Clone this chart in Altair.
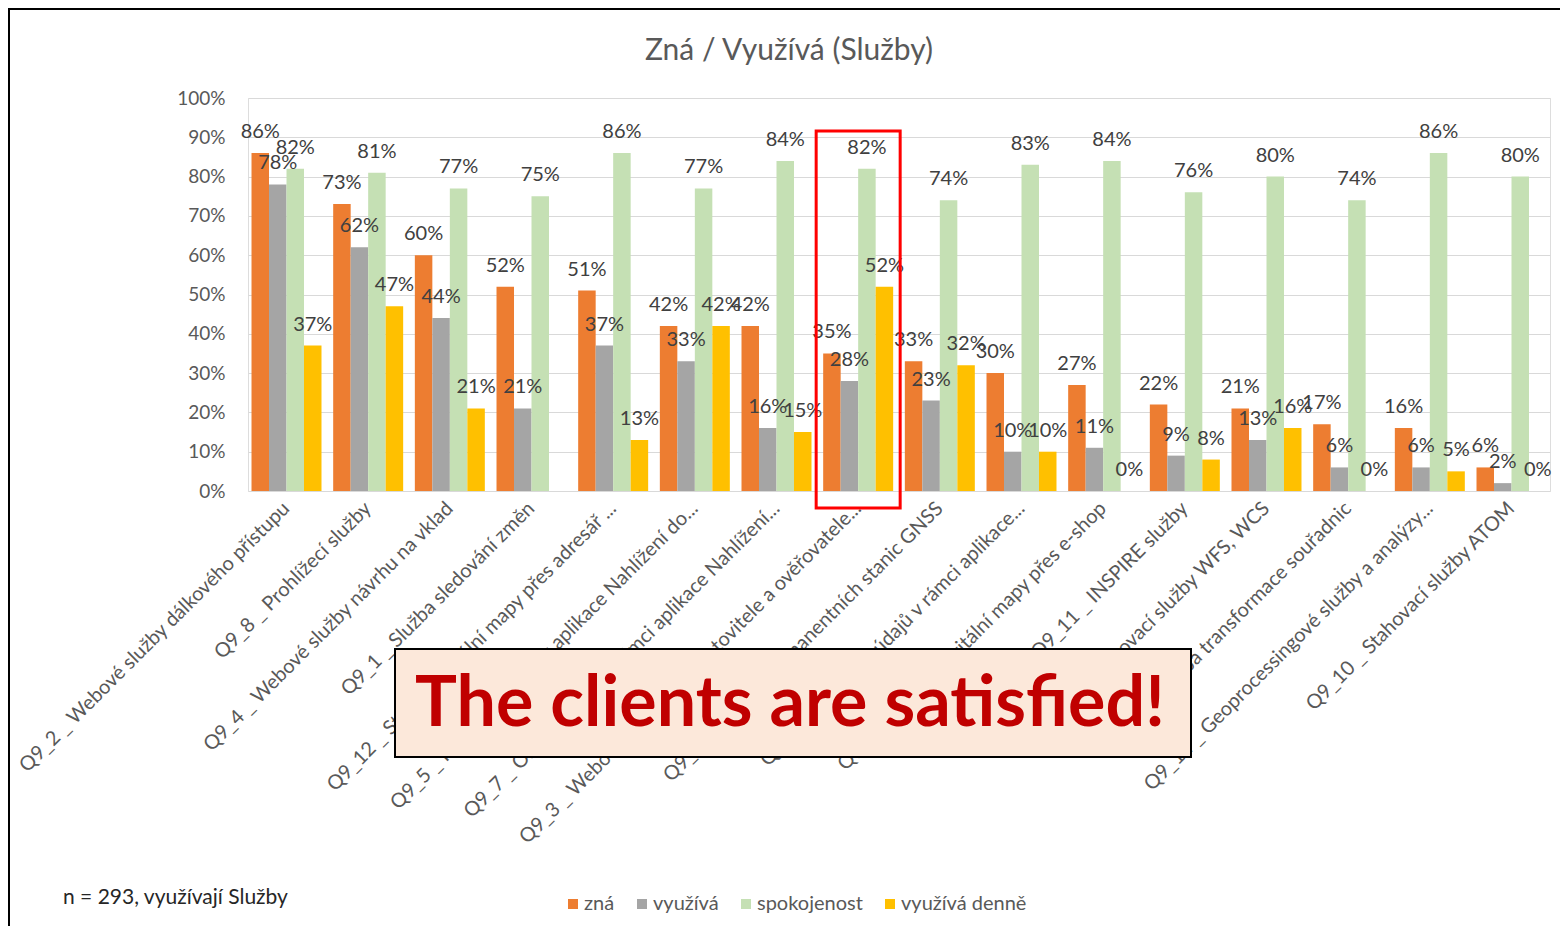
import altair as alt
import pandas as pd

categories = [
    "Q9_2 _ Webové služby dálkového přístupu",
    "Q9_8 _ Prohlížecí služby",
    "Q9_4 _ Webové služby návrhu na vklad",
    "Q9_1 _ Služba sledování změn",
    "Q9_12 _ Stažení digitální mapy přes adresář ...",
    "Q9_5 _ Poskytování dat z aplikace Nahlížení do...",
    "Q9_7 _ On-line služba v rámci aplikace Nahlížení...",
    "Q9_3 _ Webová služba pro zhotovitele a ověřovatele...",
    "Q9_16 _ Služby permanentních stanic GNSS",
    "Q9_6 _ Stahování údajů v rámci aplikace...",
    "Q9_13 _ Prodej digitální mapy přes e-shop",
    "Q9_11 _ INSPIRE služby",
    "Q9_9 _ Stahovací služby WFS, WCS",
    "Q9_15 _ Služba transformace souřadnic",
    "Q9_14 _ Geoprocessingové služby a analýzy...",
    "Q9_10 _ Stahovací služby ATOM",
]
series = ["zná", "využívá", "spokojenost", "využívá denně"]
zna = [86, 73, 60, 52, 51, 42, 42, 35, 33, 30, 27, 22, 21, 17, 16, 6]
vyuziva = [78, 62, 44, 21, 37, 33, 16, 28, 23, 10, 11, 9, 13, 6, 6, 2]
spokojenost = [82, 81, 77, 75, 86, 77, 84, 82, 74, 83, 84, 76, 80, 74, 86, 80]
denne = [37, 47, 21, None, 13, 42, 15, 52, 32, 10, 0, 8, 16, 0, 5, 0]
colors = ["#ED7D31", "#A5A5A5", "#C5E0B4", "#FFC000"]
y_ticks = [0, 10, 20, 30, 40, 50, 60, 70, 80, 90, 100]

title_text = "Zná / Využívá (Služby)"
note_text = "n = 293, využívají Služby"
callout_text = "The clients are satisfied!"
highlight_cat = categories[7]

rows = []
for i, c in enumerate(categories):
    for s, vals in zip(series, [zna, vyuziva, spokojenost, denne]):
        v = vals[i]
        if v is None:
            continue
        rows.append({"cat": c, "series": s, "value": v, "label": f"{v}%"})
df = pd.DataFrame(rows)

FONT = "Lato"
GREY = "#595959"

x_axis = alt.Axis(
    title=None, labelAngle=-45, labelAlign="right", labelBaseline="middle",
    labelFontSize=20, labelColor=GREY, labelFont=FONT, labelLimit=0,
    ticks=False, domain=False, labelPadding=14, labelOverlap=False,
)
x_scale = alt.Scale(paddingInner=0.143, paddingOuter=0.043)
y_axis = alt.Axis(
    values=y_ticks, labelExpr="datum.value + '%'", title=None,
    grid=True, gridColor="#D9D9D9", domain=False, ticks=False, labelPadding=23,
    labelFontSize=19, labelColor=GREY, labelFont=FONT, labelOverlap=False,
)
y_scale = alt.Scale(domain=[0, 100])

x_enc = alt.X("cat:N", sort=categories, scale=x_scale, axis=x_axis)
y_enc = alt.Y("value:Q", scale=y_scale, axis=y_axis)
xoff = alt.XOffset("series:N", sort=series, scale=alt.Scale(paddingInner=0, paddingOuter=0))
color_enc = alt.Color(
    "series:N", sort=series,
    scale=alt.Scale(domain=series, range=colors),
    legend=alt.Legend(
        title=None, orient="none", legendX=315, legendY=796, direction="horizontal",
        symbolType="square", symbolSize=100, labelFontSize=20, labelFont=FONT,
        labelColor=GREY, columnPadding=17, labelOffset=1, symbolStrokeWidth=0,
    ),
)

bars = alt.Chart(df).mark_bar().encode(x=x_enc, xOffset=xoff, y=y_enc, color=color_enc)
labels = alt.Chart(df).mark_text(
    dy=-15, baseline="alphabetic", fontSize=20, font=FONT, color="#404040"
).encode(x=x_enc, xOffset=xoff, y=y_enc, text="label:N")

hl = alt.Chart(pd.DataFrame({"cat": [highlight_cat], "top": [91.6], "bottom": [-4.3]})).mark_bar(
    width=84, fill="transparent", stroke="#FF0000", strokeWidth=3
).encode(
    x=x_enc,
    y=alt.Y("top:Q", scale=y_scale, axis=y_axis),
    y2="bottom:Q",
)

single = pd.DataFrame({"t": [callout_text]})
box = alt.Chart(single).mark_rect(fill="#FCE8DA", stroke="#000000", strokeWidth=2).encode(
    x=alt.value(147), x2=alt.value(943), y=alt.value(551), y2=alt.value(659)
)
box_text = alt.Chart(single).mark_text(
    fontSize=70, fontWeight="bold", font=FONT, color="#C00000", align="center", baseline="middle"
).encode(x=alt.value(542), y=alt.value(607), text="t:N")

title = alt.Chart(pd.DataFrame({"t": [title_text]})).mark_text(
    fontSize=30, font=FONT, color=GREY, align="center", baseline="middle"
).encode(x=alt.value(541), y=alt.value(-47), text="t:N")

note = alt.Chart(pd.DataFrame({"t": [note_text]})).mark_text(
    fontSize=21, font=FONT, color="#262626", align="left", baseline="middle"
).encode(x=alt.value(-185), y=alt.value(800), text="t:N")

border = alt.Chart(pd.DataFrame({"t": [""]})).mark_rect(
    fill="transparent", stroke="#000000", strokeWidth=2
).encode(x=alt.value(-239), x2=alt.value(1330), y=alt.value(-89), y2=alt.value(845))

chart = alt.layer(bars, labels, hl, border, title, note, box, box_text).properties(
    width=1302, height=393,
    padding={"left": 240, "top": 90, "right": 10, "bottom": 435},
    autosize=alt.AutoSizeParams(type="none"),
).configure_view(strokeWidth=0).configure(background="white")

chart.save("out.html", embed_options={"renderer": "svg", "actions": False})
